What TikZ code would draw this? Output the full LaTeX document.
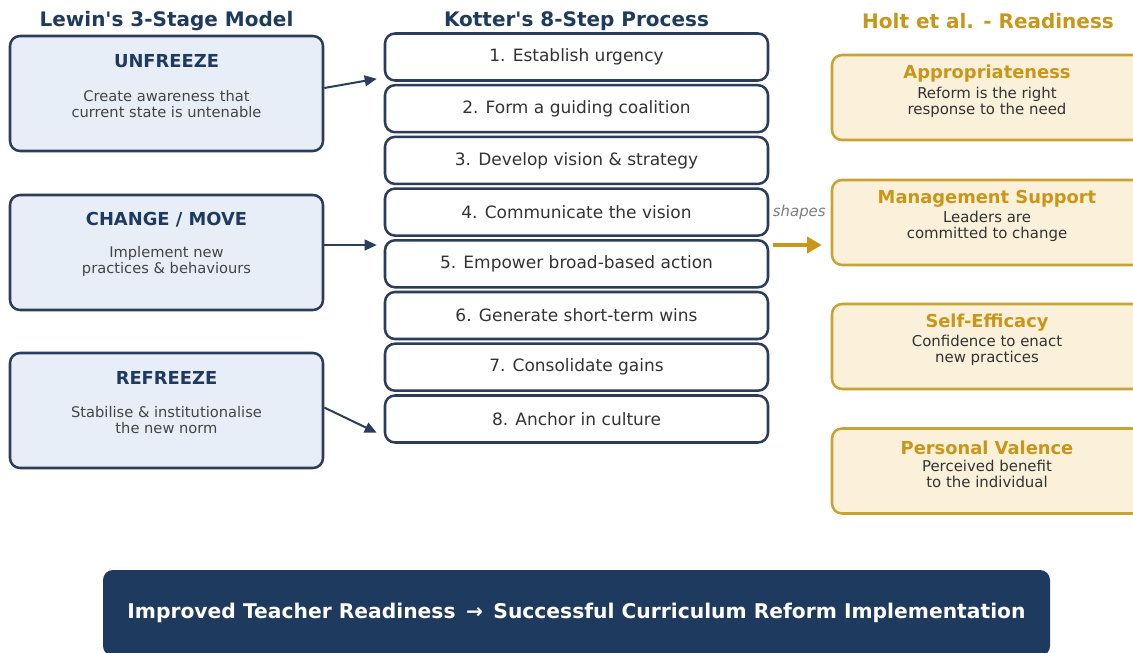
\documentclass[tikz,border=0pt]{standalone}
\usepackage{fontspec}
\setmainfont{DejaVu Sans}
\usetikzlibrary{arrows.meta,calc}

\definecolor{navy}{HTML}{1F3A5F}
\definecolor{navyline}{HTML}{2B3D5A}
\definecolor{lewinfill}{HTML}{E8EEF7}
\definecolor{gold}{HTML}{C9961A}
\definecolor{goldline}{HTML}{C9A234}
\definecolor{holtfill}{HTML}{FBF0DA}
\definecolor{bodygrey}{HTML}{444444}
\definecolor{stepgrey}{HTML}{333333}

\tikzset{
  header/.style={font=\fontsize{15pt}{18pt}\selectfont\bfseries},
  lewinbox/.style={draw=navyline, fill=lewinfill, line width=1.9pt, rounded corners=7.5pt,
    minimum width=234.75pt, minimum height=86.25pt},
  lewintitle/.style={text=navy, font=\fontsize{13.4pt}{16pt}\selectfont\bfseries},
  lewinbody/.style={text=bodygrey, align=center, font=\fontsize{11pt}{12pt}\selectfont},
  kstep/.style={draw=navyline, fill=white, line width=1.9pt, rounded corners=7.5pt,
    minimum width=287.25pt, minimum height=35.25pt, text=stepgrey,
    font=\fontsize{12.75pt}{15pt}\selectfont},
  holtbox/.style={draw=goldline, fill=holtfill, line width=1.9pt, rounded corners=7.5pt,
    minimum width=232.5pt, minimum height=63.75pt},
  holttitle/.style={text=gold, font=\fontsize{13.4pt}{16pt}\selectfont\bfseries},
  holtbody/.style={text=stepgrey, align=center, font=\fontsize{11.2pt}{12pt}\selectfont},
  navarrow/.style={draw=navyline, line width=1.5pt, -{Triangle[length=9pt,width=8pt]}},
  goldarrow/.style={draw=gold, line width=3pt, -{Triangle[length=11pt,width=12pt]}},
  shapeslbl/.style={text=gray, font=\fontsize{11.2pt}{13pt}\selectfont\itshape},
  outcome/.style={fill=navy, rounded corners=7.5pt, minimum width=710.25pt,
    minimum height=64.5pt, text=white, font=\fontsize{15.2pt}{18pt}\selectfont\bfseries}
}

\begin{document}
\begin{tikzpicture}[x=0.75pt,y=-0.75pt]
\useasboundingbox (0,0) rectangle (1133,653);
\clip (0,0) rectangle (1133,653);
\fill[white] (0,0) rectangle (1133,653);

\node[header,text=navy] (hlewin) at (166.5,21) {Lewin\textquotesingle s 3-Stage Model};
\node[header,text=navy] (hkotter) at (576.5,21) {Kotter\textquotesingle s 8-Step Process};
\node[header,text=gold] (hholt) at (988,21) {Holt et al. - Readiness};

\node[lewinbox] (unfreeze) at (166.5,93.5) {};
\node[lewintitle] (tunfreeze) at (166.5,61) {UNFREEZE};
\node[lewinbody] (bunfreeze) at (166.5,104) {Create awareness that\\current state is untenable};
\node[lewinbox] (change) at (166.5,252.5) {};
\node[lewintitle] (tchange) at (166.5,220) {CHANGE / MOVE};
\node[lewinbody] (bchange) at (166.5,261.5) {Implement new\\practices \& behaviours};
\node[lewinbox] (refreeze) at (166.5,410.5) {};
\node[lewintitle] (trefreeze) at (166.5,378) {REFREEZE};
\node[lewinbody] (brefreeze) at (166.5,420) {Stabilise \& institutionalise\\the new norm};

\node[kstep] (k1) at (576.5,57) {1. Establish urgency};
\node[kstep] (k2) at (576.5,108.7) {2. Form a guiding coalition};
\node[kstep] (k3) at (576.5,160.4) {3. Develop vision \& strategy};
\node[kstep] (k4) at (576.5,212.1) {4. Communicate the vision};
\node[kstep] (k5) at (576.5,263.8) {5. Empower broad-based action};
\node[kstep] (k6) at (576.5,315.5) {6. Generate short-term wins};
\node[kstep] (k7) at (576.5,367.2) {7. Consolidate gains};
\node[kstep] (k8) at (576.5,419) {8. Anchor in culture};

\node[holtbox] (approp) at (987,97.5) {};
\node[holttitle] (tapprop) at (987,74) {Appropriateness};
\node[holtbody] (bapprop) at (987,102) {Reform is the right\\response to the need};
\node[holtbox] (mgmt) at (987,222.5) {};
\node[holttitle] (tmgmt) at (987,199) {Management Support};
\node[holtbody] (bmgmt) at (987,226.5) {Leaders are\\committed to change};
\node[holtbox] (efficacy) at (987,346.5) {};
\node[holttitle] (tefficacy) at (987,323) {Self-Efficacy};
\node[holtbody] (befficacy) at (987,350) {Confidence to enact\\new practices};
\node[holtbox] (valence) at (987,471) {};
\node[holttitle] (tvalence) at (987,448) {Personal Valence};
\node[holtbody] (bvalence) at (987,474) {Perceived benefit\\to the individual};

\coordinate (cin) at ($(k5.north west)+(-7,6)$);
\draw[navarrow] ($(unfreeze.east)+(0,-5.5)$) -- ($(k1.south west)+(-7,-3)$);
\draw[navarrow] (change.east |- cin) -- (cin);
\draw[navarrow] ($(refreeze.east)+(0,-3)$) -- ($(k8.south west)+(-7,-11)$);

\coordinate (gout) at ($(k5.north east)+(4,6)$);
\draw[goldarrow] (gout) -- ($(mgmt.west |- gout)+(-9,0)$);
\node[shapeslbl] (lshapes) at ($(k4.east)+(30,0)$) {shapes};

\node[outcome] (result) at (576.5,613) {Improved Teacher Readiness \,→\, Successful Curriculum Reform Implementation};
\end{tikzpicture}
\end{document}
